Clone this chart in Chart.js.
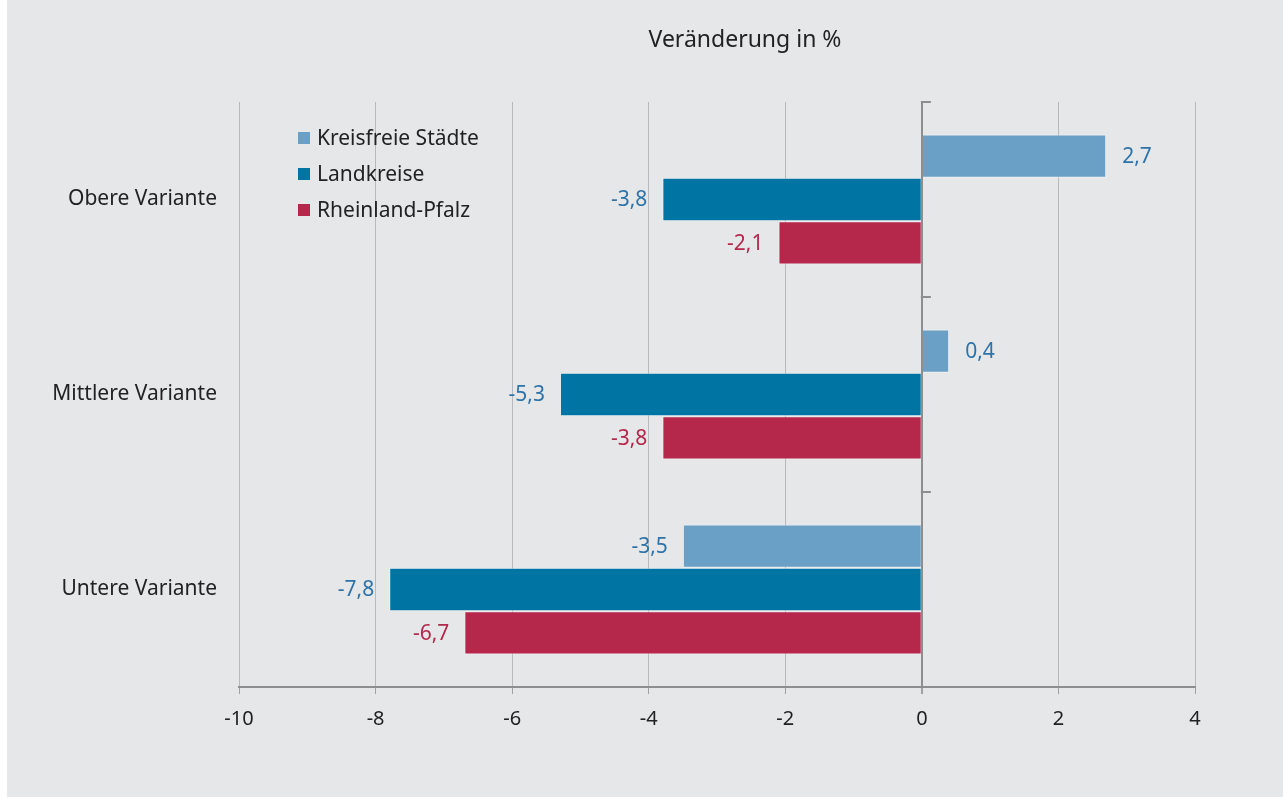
<!DOCTYPE html>
<html>
<head>
<meta charset="utf-8">
<script src="https://cdn.jsdelivr.net/npm/chart.js@4/dist/chart.umd.min.js"></script>
<style>
  html, body { margin: 0; padding: 0; background: #ffffff; }
  #wrap { position: absolute; left: 7px; top: 0; width: 1276px; height: 797px; background: #e6e7e9; }
</style>
</head>
<body>
<div id="wrap"><canvas id="chart"></canvas></div>
<script>
// data
const categories = ['Obere Variante', 'Mittlere Variante', 'Untere Variante'];
const seriesNames = ['Kreisfreie Städte', 'Landkreise', 'Rheinland-Pfalz'];
const kreisfreieStaedte = [2.7, 0.4, -3.5];
const landkreise = [-3.8, -5.3, -7.8];
const rheinlandPfalz = [-2.1, -3.8, -6.7];
const xTicks = [-10, -8, -6, -4, -2, 0, 2, 4];

const barColors = ['#6ba0c6', '#0075a3', '#b5274b'];
const labelColors = ['#2d73a8', '#2d73a8', '#b5274b'];
const fontFamily = '"Noto Sans", "Open Sans", sans-serif';

const fmt = v => String(v).replace('.', ',');

// value labels at the end of each bar
const valueLabels = {
  id: 'valueLabels',
  afterDatasetsDraw(chart) {
    const ctx = chart.ctx;
    ctx.save();
    ctx.font = '21px ' + fontFamily;
    ctx.textBaseline = 'middle';
    chart.data.datasets.forEach((ds, i) => {
      const meta = chart.getDatasetMeta(i);
      meta.data.forEach((bar, j) => {
        const v = ds.data[j];
        ctx.fillStyle = labelColors[i];
        if (v >= 0) {
          ctx.textAlign = 'left';
          ctx.fillText(fmt(v), bar.x + 16, bar.y + 1);
        } else {
          ctx.textAlign = 'right';
          ctx.fillText(fmt(v), bar.x - 15, bar.y + 1);
        }
      });
    });
    ctx.restore();
  }
};

// zero line ticks between categories, legend and title
const extras = {
  id: 'extras',
  afterDraw(chart) {
    const ctx = chart.ctx;
    const area = chart.chartArea;
    const xs = chart.scales.x;
    const ys = chart.scales.y;
    const x0 = xs.getPixelForValue(0);
    ctx.save();
    ctx.strokeStyle = '#8e8e8e';
    ctx.lineWidth = 2;
    const band = ys.getPixelForValue(1) - ys.getPixelForValue(0);
    for (let i = 0; i < categories.length; i++) {
      const y = Math.round(ys.getPixelForValue(i) - band / 2);
      ctx.beginPath();
      ctx.moveTo(x0 - 1, y);
      ctx.lineTo(x0 + 9, y);
      ctx.stroke();
    }

    // legend
    ctx.font = '21px ' + fontFamily;
    ctx.textAlign = 'left';
    ctx.textBaseline = 'middle';
    chart.data.datasets.forEach((ds, i) => {
      const ly = area.top + 36 + i * 36;
      ctx.fillStyle = ds.backgroundColor;
      ctx.fillRect(area.left + 59, ly - 6, 12, 12);
      ctx.fillStyle = '#222222';
      ctx.fillText(ds.label, area.left + 78, ly + 1);
    });

    // title
    ctx.font = '23px ' + fontFamily;
    ctx.textAlign = 'center';
    ctx.fillStyle = '#222222';
    ctx.fillText('Veränderung in %', 738, 40);
    ctx.restore();
  }
};

const ctx = document.getElementById('chart').getContext('2d');
const chart = new Chart(ctx, {
  type: 'bar',
  data: {
    labels: categories,
    datasets: [kreisfreieStaedte, landkreise, rheinlandPfalz].map((d, i) => ({
      label: seriesNames[i],
      data: d,
      backgroundColor: barColors[i],
      borderColor: 'rgba(255,255,255,0.45)',
      borderWidth: 1,
      borderSkipped: 'start',
      barPercentage: 1,
      categoryPercentage: 0.667
    }))
  },
  options: {
    indexAxis: 'y',
    responsive: true,
    maintainAspectRatio: false,
    animation: false,
    layout: { padding: { top: 102, right: 88, left: 0, bottom: 0 } },
    plugins: {
      legend: { display: false },
      tooltip: { enabled: false }
    },
    scales: {
      x: {
        min: -10,
        max: 4,
        afterBuildTicks: scale => { scale.ticks = xTicks.map(v => ({ value: v })); },
        afterFit: scale => { scale.height = 110; },
        grid: {
          color: c => c.tick && c.tick.value === 0 ? '#8e8e8e' : '#b9b9b9',
          lineWidth: c => c.tick && c.tick.value === 0 ? 2 : 1,
          tickLength: 7,
          tickColor: '#a0a0a0'
        },
        border: { display: true, color: '#8e8e8e', width: 2 },
        ticks: {
          padding: 13,
          color: '#222222',
          font: { family: fontFamily, size: 20 },
          callback: v => v
        }
      },
      y: {
        afterFit: scale => { scale.width = 232; },
        grid: { display: false, drawTicks: false },
        border: { display: false },
        ticks: {
          padding: 22,
          color: '#222222',
          font: { family: fontFamily, size: 21 }
        }
      }
    }
  },
  plugins: [valueLabels, extras]
});
</script>
</body>
</html>
